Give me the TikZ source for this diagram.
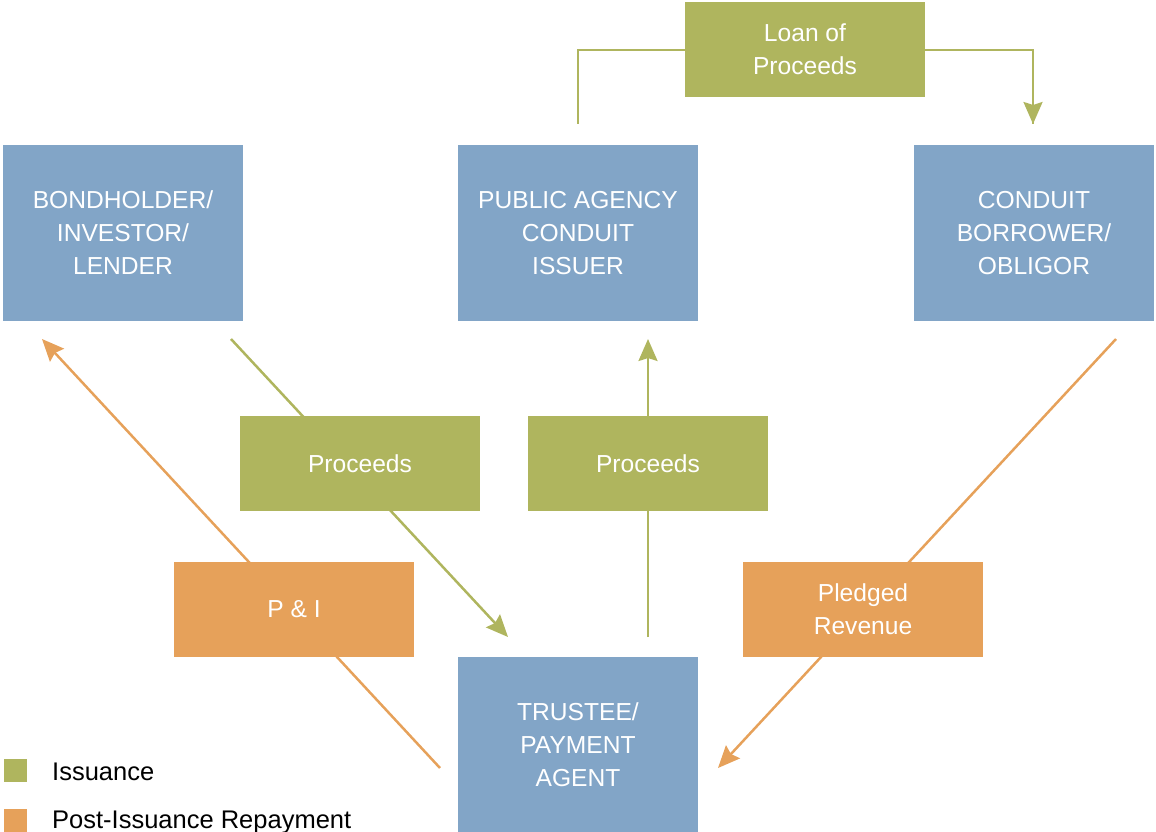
\documentclass[tikz,border=0pt]{standalone}
\usepackage{fontspec}
\setmainfont{Liberation Sans}
\usetikzlibrary{arrows.meta}
\definecolor{cblue}{HTML}{82A5C7}
\definecolor{cgreen}{HTML}{AFB55E}
\definecolor{corange}{HTML}{E6A15A}
\begin{document}
\begin{tikzpicture}[x=1pt,y=-1pt,
  bigbox/.style={fill=cblue,minimum width=240pt,minimum height=176pt,inner sep=0pt,text=white,align=center,font=\fontsize{24.6}{33}\selectfont},
  smallbox/.style={minimum width=240pt,minimum height=95pt,inner sep=0pt,text=white,align=center,font=\fontsize{24.6}{33}\selectfont},
  gbox/.style={smallbox,fill=cgreen},
  obox/.style={smallbox,fill=corange},
  gline/.style={draw=cgreen,line width=2.5pt},
  oline/.style={draw=corange,line width=2.5pt},
  tip/.style={-{Stealth[length=22pt,width=19pt,inset=3pt]}},
  legtext/.style={anchor=west,inner sep=0pt,font=\fontsize{25.5}{28}\selectfont}]
\useasboundingbox (0,0) rectangle (1156,832);
% coordinates for connector ends
\coordinate (loanA) at (578,124);
\coordinate (loanB) at (1033,124);
\coordinate (procAstart) at (231,339);
\coordinate (procAend) at (508,637);
\coordinate (procBstart) at (648,637);
\coordinate (procBend) at (648,339);
\coordinate (pledStart) at (1116,339);
\coordinate (pledEnd) at (718,768);
\coordinate (piStart) at (440,768);
\coordinate (piEnd) at (42,339);
% connectors (under boxes)
\draw[gline] (loanA) |- (805,50) -| (loanB);
\draw[gline,tip] (805,50) -| (loanB);
\draw[gline,tip] (procAstart) -- (procAend);
\draw[gline,tip] (procBstart) -- (procBend);
\draw[oline,tip] (pledStart) -- (pledEnd);
\draw[oline,tip] (piStart) -- (piEnd);
% boxes
\node[bigbox] (bond) at (123,233) {BONDHOLDER/\\INVESTOR/\\LENDER};
\node[bigbox] (agency) at (578,233) {PUBLIC AGENCY\\CONDUIT\\ISSUER};
\node[bigbox] (borrower) at (1034,233) {CONDUIT\\BORROWER/\\OBLIGOR};
\node[bigbox] (trustee) at (578,745) {TRUSTEE/\\PAYMENT\\AGENT};
\node[gbox] (loan) at (805,49.5) {Loan of\\Proceeds};
\node[gbox] (procA) at (360,463.5) {Proceeds};
\node[gbox] (procB) at (648,463.5) {Proceeds};
\node[obox] (pi) at (294,609.5) {P \& I};
\node[obox] (pled) at (863,609.5) {Pledged\\Revenue};
% legend
\node[fill=cgreen,minimum size=23pt,inner sep=0pt] (legG) at (15.5,770.5) {};
\node[legtext] (legGt) at (52,772) {Issuance};
\node[fill=corange,minimum size=23pt,inner sep=0pt] (legO) at (15.5,820.5) {};
\node[legtext] (legOt) at (52,822) {Post-Issuance Repayment};
\end{tikzpicture}
\end{document}
